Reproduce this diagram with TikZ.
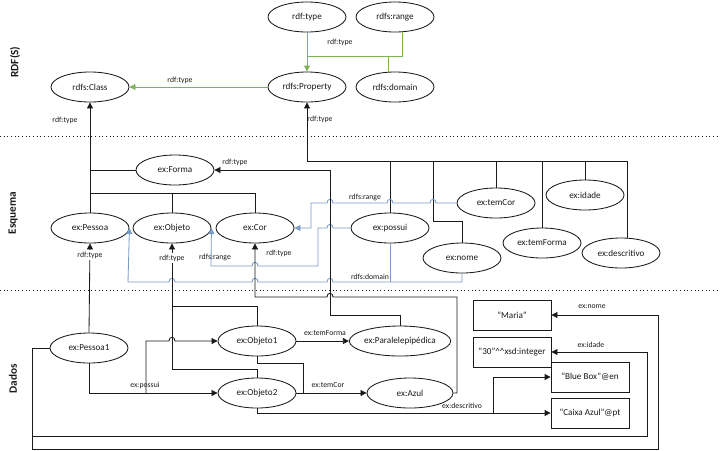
\documentclass[tikz,border=0pt]{standalone}
\usepackage{fontspec}
\setmainfont{Carlito}
\usepackage{tikz}
\usetikzlibrary{arrows.meta,shapes.geometric}
\definecolor{rdGreen}{HTML}{7DB356}
\definecolor{rdBlue}{HTML}{7A9CC6}
\definecolor{rdInk}{HTML}{1A1A1A}
\tikzset{
  rd diagram/.style={font=\fontsize{6.5}{8}\selectfont, text=rdInk,
    line width=0.6pt, line join=miter},
  rd ell/.style={ellipse, draw=rdInk, fill=white, minimum width=1.95cm,
    minimum height=0.75cm, inner sep=0pt},
  rd box/.style={rectangle, draw=rdInk, fill=white, minimum width=1.95cm,
    minimum height=0.75cm, inner sep=0pt},
  rd arrow/.style={-{Triangle[length=1.5mm,width=1.5mm]}},
  rd line/.style={draw=rdInk},
  rd green/.style={draw=rdGreen},
  rd blue/.style={draw=rdBlue},
  rd label/.style={font=\fontsize{5.5}{6.5}\selectfont, inner sep=1pt},
  rd section/.style={font=\fontsize{8}{9}\selectfont\bfseries, rotate=90},
  rd sep/.style={draw=rdInk, dotted, line width=0.6pt}
}
% small line jumps where two connectors cross
\newcommand{\hopleft}[2]{-- (#1+3,#2) .. controls (#1+3,#2-5) and (#1-3,#2-5) .. (#1-3,#2)}
\newcommand{\hopright}[2]{-- (#1-3,#2) .. controls (#1-3,#2-5) and (#1+3,#2-5) .. (#1+3,#2)}

\begin{document}
\begin{tikzpicture}[rd diagram, x=0.025cm, y=-0.025cm]
\useasboundingbox (0,0) rectangle (720,450);

% layers
\draw[rd sep] (0,136) -- (720,136);
\draw[rd sep] (0,290) -- (720,290);
\node[rd section] (secRdfs) at (15,62) {RDF(S)};
\node[rd section] (secEsquema) at (13,213) {Esquema};
\node[rd section] (secDados) at (13,379) {Dados};

% RDF(S)
\node[rd ell] (rdftype) at (307,17) {rdf:type};
\node[rd ell] (rdfsrange) at (395,17) {rdfs:range};
\node[rd ell] (property) at (307,87) {rdfs:Property};
\node[rd ell] (domain) at (395,87) {rdfs:domain};
\node[rd ell] (class) at (90,87) {rdfs:Class};

% Esquema
\node[rd ell] (forma) at (175,170) {ex:Forma};
\node[rd ell] (pessoa) at (90,228) {ex:Pessoa};
\node[rd ell] (objeto) at (172,228) {ex:Objeto};
\node[rd ell] (cor) at (255,228) {ex:Cor};
\node[rd ell] (possui) at (390,228) {ex:possui};
\node[rd ell] (temcor) at (496,203) {ex:temCor};
\node[rd ell] (idade) at (585,195) {ex:idade};
\node[rd ell] (nome) at (462,258) {ex:nome};
\node[rd ell] (temforma) at (542,243) {ex:temForma};
\node[rd ell] (descritivo) at (621,253) {ex:descritivo};

% Dados
\node[rd ell] (pessoa1) at (89,348) {ex:Pessoa1};
\node[rd ell] (objeto1) at (257,341) {ex:Objeto1};
\node[rd ell] (objeto2) at (257,393) {ex:Objeto2};
\node[rd ell, minimum width=2.2cm] (paral) at (400,341) {ex:Paralelepipédica};
\node[rd ell, minimum width=2.15cm] (azul) at (410,393) {ex:Azul};
\node[rd box] (maria) at (512,315) {“Maria”};
\node[rd box] (trinta) at (512,352) {“30”\textasciicircum\textasciicircum xsd:integer};
\node[rd box] (bluebox) at (590,377) {“Blue Box”@en};
\node[rd box] (caixa) at (590,413) {“Caixa Azul”@pt};

% rdf(s) links
\coordinate (greenjoin) at (402,56);
\draw[rd green, rd arrow] (rdftype) -- (property);
\draw[rd green] (greenjoin |- rdfsrange.south) -- (greenjoin) -- (greenjoin -| property);
\draw[rd green] (388,56) -- (388,72);
\draw[rd green, rd arrow] (property) -- (class);
\node[rd label] (lblTypeTop) at (340,42) {rdf:type};
\node[rd label] (lblTypeClass) at (180,80) {rdf:type};

% classes -> rdfs:Class
\draw[rd line, rd arrow] (pessoa.north) -- (class.south);
\draw[rd line] (90,170) -- (forma.west);
\draw[rd line] (90,193) -- (255,193);
\foreach \n in {objeto,cor}
  \draw[rd line] (\n.north) -- (\n.north |- 0,193);
\node[rd label] (lblClassType) at (65,120) {rdf:type};

% properties -> rdfs:Property
\coordinate (proprail) at (307,161);
\draw[rd line, rd arrow] (proprail) -- (property.south);
\draw[rd line] (proprail) -- (627,161) -- (627,238);
\foreach \n in {possui,temcor,temforma,idade}
  \draw[rd line] (\n.north) -- (\n.north |- proprail);
\draw[rd line] (433,161) -- (433,221) -| (nome.north);
\node[rd label] (lblPropType) at (320,119) {rdf:type};

% domain and range
\draw[rd blue, rd arrow] (temcor.west) \hopleft{433}{203} \hopleft{390}{203}
  \hopleft{330}{203} -- (311,203) -- (311,228) -- (cor.east);
\draw[rd blue, rd arrow] (possui.west) \hopleft{330}{228} -- (318,228)
  -- (318,266) \hopleft{255}{266} -- (211,266) -- (objeto.east);
\draw[rd blue, rd arrow] (nome.south) -- (462,282) \hopleft{330}{282}
  \hopleft{255}{282} \hopleft{172}{282} -- (128,282) -- (pessoa.east);
\draw[rd blue] (possui.south) -- (390,282);
\node[rd label] (lblRangeCor) at (365,197) {rdfs:range};
\node[rd label] (lblRangeObj) at (215,257) {rdfs:range};
\node[rd label] (lblDomain) at (370,277) {rdfs:domain};

% instances -> classes
\draw[rd line, rd arrow] (paral.north) |- (330,315) -- (330,170) -- (forma.east);
\draw[rd line, rd arrow] (azul.east) -- (457,393) -- (457,297) \hopleft{330}{297}
  -- (255,297) -- (cor.south);
\draw[rd line, rd arrow] (objeto2.north) |- (172,369) -- (objeto.south);
\draw[rd line] (objeto1.north) |- (172,306);
\draw[rd line, rd arrow] (pessoa1.north) -- (pessoa.south);
\node[rd label] (lblTypeForma) at (235,162) {rdf:type};
\node[rd label, fill=white] (lblTypePessoa) at (90,255) {rdf:type};
\node[rd label, fill=white] (lblTypeObjeto) at (172,258) {rdf:type};
\node[rd label] (lblTypeCor) at (279,253) {rdf:type};

% data links
\draw[rd line, rd arrow] (objeto1.east) -- (paral.west);
\draw[rd line, rd arrow] (objeto2.east) -- (azul.west);
\draw[rd line] (objeto1.south) |- (303,363) -- (303,393);
\draw[rd line, rd arrow] (pessoa1.south) |- (objeto2.west);
\draw[rd line, rd arrow] (146,393) -- (146,341) \hopright{172}{341} -- (objeto1.west);
\draw[rd line, rd arrow] (objeto2.south) |- (caixa.west);
\draw[rd line, rd arrow] (493,413) |- (bluebox.west);
\draw[rd line, rd arrow] (pessoa1.west) -- (32,348) -- (32,436) -- (647,436)
  -- (647,352) -- (trinta.east);
\draw[rd line, rd arrow] (32,436) -- (32,449) -- (658,449) -- (658,315) -- (maria.east);
\node[rd label] (lblTemForma) at (325,333) {ex:temForma};
\node[rd label] (lblTemCor) at (328,385) {ex:temCor};
\node[rd label] (lblPossui) at (145,385) {ex:possui};
\node[rd label] (lblDescritivo) at (462,406) {ex:descritivo};
\node[rd label] (lblIdade) at (591,345) {ex:idade};
\node[rd label] (lblNome) at (592,307) {ex:nome};
\end{tikzpicture}
\end{document}
